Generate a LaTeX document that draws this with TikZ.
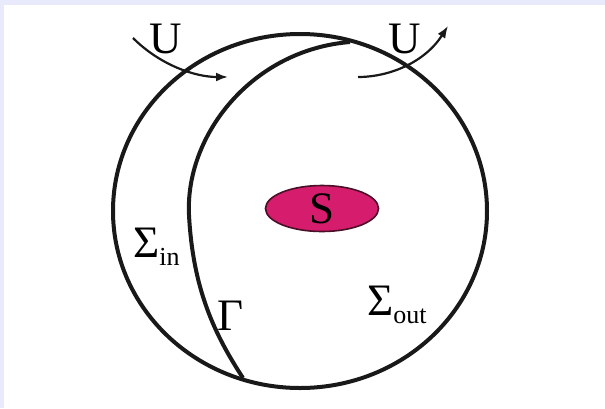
\documentclass[tikz,border=0pt]{standalone}
\usepackage{fontspec}
\setmainfont{Liberation Serif}
\usepackage{tikz}
\usetikzlibrary{arrows.meta,positioning,calc,shapes.geometric}
\definecolor{framelav}{HTML}{E8EAFB}
\definecolor{srcpink}{HTML}{D61C6C}
\definecolor{srcrim}{HTML}{4A1028}
\tikzset{
  rim/.style={line width=4pt, draw=black!90},
  flow/.style={-{Latex[length=12pt,width=9pt]}, line width=2.2pt, draw=black!90},
  lbl/.style={anchor=base west, inner sep=0pt, font=\fontsize{45}{50}\selectfont},
}
\newcommand{\sublbl}[1]{\raisebox{-8pt}{\fontsize{26}{28}\selectfont #1}}

\begin{document}
\begin{tikzpicture}[x=1pt, y=-1pt]
\useasboundingbox (0,0) rectangle (605,408);
\fill[framelav] (0,0) rectangle (605,408);
\fill[white] (4,5) rectangle (605,408);
% outer surface and the cut Gamma
\draw[rim] (300,211) ellipse [x radius=187, y radius=177];
\draw[rim] (350,42) .. controls (252,50) and (185,135) .. (189,215)
  .. controls (193,290) and (215,335) .. (243,378);
% source
\node[ellipse, draw=srcrim, line width=1.6pt, fill=srcpink, minimum width=113pt, minimum height=46pt, inner sep=0pt, font=\fontsize{45}{50}\selectfont] (src) at (322,208.5) {S};
% labels
\node[lbl] (uin) at (149,53) {U};
\node[lbl] (uout) at (388,53) {U};
\node[lbl] (sin) at (133,257) {Σ\sublbl{in}};
\node[lbl] (gam) at (217,330) {Γ};
\node[lbl] (sout) at (367,315) {Σ\sublbl{out}};
% flow in and out
\coordinate (inA) at (133,38);
\coordinate (inB) at (228,77);
\coordinate (outA) at (358,77);
\coordinate (outB) at (448,26);
\draw[flow] (inA) .. controls (160,65) and (195,77) .. (inB);
\draw[flow] (outA) .. controls (390,77) and (425,62) .. (outB);
\end{tikzpicture}
\end{document}
